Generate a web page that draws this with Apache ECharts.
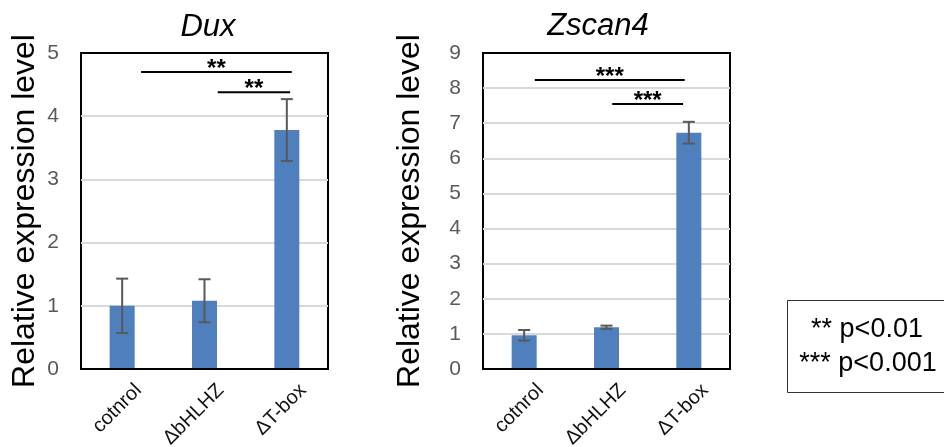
<!DOCTYPE html>
<html><head><meta charset="utf-8">
<script src="https://cdn.jsdelivr.net/npm/echarts@6/dist/echarts.min.js"></script>
<style>html,body{margin:0;padding:0;background:#fff}#c{width:944px;height:447px}</style>
</head><body><div id="c"></div>
<script>
// ---- data ----
const categories = ['cotnrol', '\u0394bHLHZ', '\u0394T-box'];
const duxMean = [1.0, 1.08, 3.78];
const duxSD = [0.43, 0.34, 0.49];
const zscanMean = [0.96, 1.19, 6.73];
const zscanSD = [0.15, 0.045, 0.31];
const duxMax = 5;
const zscanMax = 9;
// significance brackets: [from (category units), to, y level, label]
const duxSig = [[0.23, 2.06, 4.70, '**'], [1.16, 2.04, 4.38, '**']];
const zscanSig = [[0.13, 1.95, 8.23, '***'], [1.07, 1.93, 7.55, '***']];
const titles = ['Dux', 'Zscan4'];
const yName = 'Relative expression level';
const legendLines = ['** p<0.01', '*** p<0.001'];

const FONT = '"Liberation Sans", Arial, sans-serif';
const chart = echarts.init(document.getElementById('c'), null, {renderer: 'canvas'});

const grids = [
  {left: 81, top: 53, width: 247, height: 316},
  {left: 483, top: 53, width: 247, height: 316}
];

function errRender(sdArr) {
  return function (params, api) {
    const i = api.value(0), m = api.value(1), sd = sdArr[params.dataIndex];
    const t = api.coord([i, m + sd]);
    const b = api.coord([i, m - sd]);
    const h = 6;
    const st = {stroke: '#595959', lineWidth: 2};
    return {type: 'group', children: [
      {type: 'line', shape: {x1: t[0], y1: t[1], x2: b[0], y2: b[1]}, style: st},
      {type: 'line', shape: {x1: t[0] - h, y1: t[1], x2: t[0] + h, y2: t[1]}, style: st},
      {type: 'line', shape: {x1: b[0] - h, y1: b[1], x2: b[0] + h, y2: b[1]}, style: st}
    ]};
  };
}
function sigRender(sigArr) {
  return function (params, api) {
    const d = sigArr[params.dataIndex];
    const a = api.coord([d[0], d[2]]);
    const b = api.coord([d[1], d[2]]);
    return {type: 'group', children: [
      {type: 'line', shape: {x1: a[0], y1: a[1], x2: b[0], y2: b[1]}, style: {stroke: '#000', lineWidth: 2}},
      {type: 'text', style: {text: d[3], x: (a[0] + b[0]) / 2, y: a[1] - 3, textAlign: 'center', textVerticalAlign: 'middle',
        font: 'bold 24px ' + FONT, fill: '#000'}}
    ]};
  };
}

const xAxes = [], yAxes = [], series = [];
[[duxMean, duxSD, duxMax, duxSig, 40], [zscanMean, zscanSD, zscanMax, zscanSig, 57]].forEach((cfg, g) => {
  const [mean, sd, ymax, sig, gap] = cfg;
  xAxes.push({type: 'category', gridIndex: g, data: categories, z: 5,
    axisLine: {lineStyle: {color: '#000', width: 2}}, axisTick: {show: false},
    axisLabel: {rotate: 45, fontSize: 20, fontFamily: FONT, color: '#111', margin: 2, verticalAlign: 'top', padding: [13, 0, 0, 0]}});
  xAxes.push({type: 'value', gridIndex: g, min: -0.5, max: 2.5, show: false});
  yAxes.push({type: 'value', gridIndex: g, min: 0, max: ymax, interval: 1,
    axisLine: {show: false}, axisTick: {show: false},
    axisLabel: {fontSize: 21, fontFamily: FONT, color: '#595959', margin: 22},
    splitLine: {show: true, showMaxLine: false, showMinLine: false, lineStyle: {color: '#d9d9d9', width: 2}},
    name: yName, nameLocation: 'middle', nameRotate: 90, nameGap: gap, nameMoveOverlap: false,
    nameTextStyle: {fontSize: 32, fontFamily: FONT, color: '#000'}});
  series.push({type: 'bar', xAxisIndex: g * 2, yAxisIndex: g, data: mean, barWidth: 25,
    itemStyle: {color: '#4f7fbd'}, z: 2});
  series.push({type: 'custom', xAxisIndex: g * 2, yAxisIndex: g, z: 10,
    data: mean.map((m, i) => [i, m]), encode: {x: 0, y: 1}, renderItem: errRender(sd)});
  series.push({type: 'custom', xAxisIndex: g * 2 + 1, yAxisIndex: g, z: 10,
    data: sig.map(s => [s[0], s[1], s[2]]), encode: {x: [0, 1], y: 2}, renderItem: sigRender(sig)});
});

chart.setOption({
  animation: false,
  grid: grids.map(r => Object.assign({show: true, borderColor: '#000', borderWidth: 2, backgroundColor: 'transparent',
    containLabel: false, outerBoundsMode: 'none'}, r)),
  xAxis: xAxes,
  yAxis: yAxes,
  series: series,
  graphic: [
    {type: 'text', x: 208, y: 27, style: {text: titles[0], font: 'italic 31px ' + FONT, fill: '#000', textAlign: 'center', textVerticalAlign: 'middle'}},
    {type: 'text', x: 598, y: 26, style: {text: titles[1], font: 'italic 31px ' + FONT, fill: '#000', textAlign: 'center', textVerticalAlign: 'middle'}},
    {type: 'rect', shape: {x: 787.5, y: 300.5, width: 170, height: 92}, style: {fill: 'none', stroke: '#333', lineWidth: 1}},
    {type: 'text', x: 867, y: 330, style: {text: legendLines[0], font: '27px ' + FONT, fill: '#000', textAlign: 'center', textVerticalAlign: 'middle'}},
    {type: 'text', x: 868, y: 364, style: {text: legendLines[1], font: '27px ' + FONT, fill: '#000', textAlign: 'center', textVerticalAlign: 'middle'}}
  ]
});
</script></body></html>
